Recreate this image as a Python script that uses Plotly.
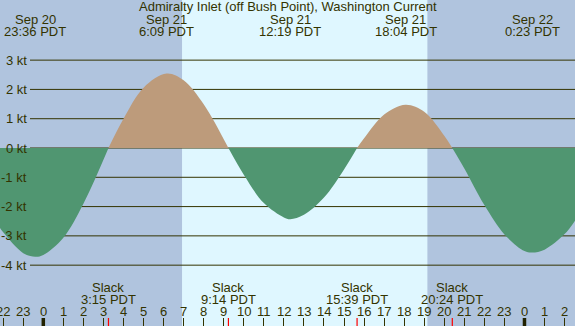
import plotly.graph_objects as go

# ---- data (hours relative to Sep 21 00:00 PDT) ----
times = [-2.16, -2.0, -1.0, -0.4, 0.0, 1.0, 2.0, 3.0, 3.25, 4.0, 5.0, 6.15, 7.0, 8.0, 9.0, 9.233,
         10.0, 11.0, 12.0, 12.317, 13.0, 14.0, 15.0, 15.65, 16.0, 17.0, 18.067, 19.0, 20.0, 20.4,
         21.0, 22.0, 23.0, 24.0, 24.383, 25.0, 26.0, 26.52]
speeds = [-2.73, -2.88, -3.59, -3.71, -3.65, -3.06, -1.90, -0.40, 0.0, 1.00, 2.06, 2.54, 2.31, 1.49, 0.30, 0.0,
          -0.91, -1.88, -2.37, -2.43, -2.28, -1.69, -0.73, 0.0, 0.33, 1.14, 1.48, 1.24, 0.42, 0.0,
          -0.70, -1.95, -2.95, -3.52, -3.57, -3.47, -2.94, -2.48]

event_times = [-0.4, 6.15, 12.317, 18.067, 24.383]
event_dates = ["Sep 20", "Sep 21", "Sep 21", "Sep 21", "Sep 22"]
event_clock = ["23:36 PDT", "6:09 PDT", "12:19 PDT", "18:04 PDT", "0:23 PDT"]

slack_times = [3.25, 9.233, 15.65, 20.4]
slack_clock = ["3:15 PDT", "9:14 PDT", "15:39 PDT", "20:24 PDT"]

hour_vals = list(range(-2, 27))
hour_labels = ["22", "23", "0", "1", "2", "3", "4", "5", "6", "7", "8", "9", "10", "11", "12",
               "13", "14", "15", "16", "17", "18", "19", "20", "21", "22", "23", "0", "1", "2"]
midnights = [0, 24]

kt_vals = [3, 2, 1, 0, -1, -2, -3, -4]
kt_labels = ["3 kt", "2 kt", "1 kt", "0 kt", "-1 kt", "-2 kt", "-3 kt", "-4 kt"]

sunrise, sunset = 6.92, 19.17
title = "Admiralty Inlet (off Bush Point), Washington Current"

# ---- style ----
W, H = 575, 326
XR = [-2.16, 26.52]
YR = [-6.077, 5.053]
NIGHT = "#b0c4de"
DAY = "#dff7ff"
FLOOD = "#bd9b7b"
EBB = "#509671"
TXT = "#333300"
FONT = "Liberation Sans, Arial, sans-serif"
FS = 13


def py(px):
    return 1 - px / H


fig = go.Figure()

# split curve into flood / ebb segments at slack points
segs, cur = [], [(times[0], speeds[0])]
for t, v in zip(times[1:], speeds[1:]):
    cur.append((t, v))
    if v == 0:
        segs.append(cur)
        cur = [(t, v)]
if len(cur) > 1:
    segs.append(cur)

for seg in segs:
    xs = [p[0] for p in seg]
    ys = [p[1] for p in seg]
    col = FLOOD if sum(ys) > 0 else EBB
    fig.add_trace(go.Scatter(x=xs, y=ys, mode="lines", line=dict(width=0, shape="spline", color=col),
                             fill="tozeroy", fillcolor=col, hoverinfo="skip", showlegend=False))

shapes = []
shapes.append(dict(type="rect", xref="x", yref="paper", x0=XR[0], x1=sunrise, y0=0, y1=1,
                   fillcolor=NIGHT, line=dict(width=0), layer="below"))
shapes.append(dict(type="rect", xref="x", yref="paper", x0=sunrise, x1=sunset, y0=0, y1=1,
                   fillcolor=DAY, line=dict(width=0), layer="below"))
shapes.append(dict(type="rect", xref="x", yref="paper", x0=sunset, x1=XR[1], y0=0, y1=1,
                   fillcolor=NIGHT, line=dict(width=0), layer="below"))
for k in kt_vals:
    shapes.append(dict(type="line", xref="paper", yref="y", x0=30 / W, x1=1, y0=k, y1=k,
                       line=dict(color=TXT, width=1), layer="below"))
for m in midnights:
    shapes.append(dict(type="line", xref="x", yref="paper", x0=m, x1=m, y0=0, y1=8 / H,
                       line=dict(color="#222200", width=3.5)))
for s in slack_times:
    shapes.append(dict(type="line", xref="x", yref="paper", x0=s, x1=s, y0=0, y1=8 / H,
                       line=dict(color="#ff0000", width=1.2)))

ann = []
fnt = dict(family=FONT, size=FS, color=TXT)
ann.append(dict(text=title, x=0.5, y=py(6.8), xref="paper", yref="paper", showarrow=False,
                xanchor="center", yanchor="middle", font=fnt))
for t, d, c in zip(event_times, event_dates, event_clock):
    ann.append(dict(text=d, x=t, y=py(19.7), xref="x", yref="paper", showarrow=False,
                    xanchor="center", yanchor="middle", font=fnt))
    ann.append(dict(text=c, x=t, y=py(31.7), xref="x", yref="paper", showarrow=False,
                    xanchor="center", yanchor="middle", font=fnt))
for t, c in zip(slack_times, slack_clock):
    ann.append(dict(text="Slack", x=t, y=py(287.3), xref="x", yref="paper", showarrow=False,
                    xanchor="center", yanchor="middle", font=fnt))
    ann.append(dict(text=c, x=t, y=py(299.7), xref="x", yref="paper", showarrow=False,
                    xanchor="center", yanchor="middle", font=fnt))
for h, lab in zip(hour_vals, hour_labels):
    ann.append(dict(text=lab, x=h, y=py(311.7), xref="x", yref="paper", showarrow=False,
                    xanchor="center", yanchor="middle", font=fnt))
for k, lab in zip(kt_vals, kt_labels):
    ann.append(dict(text=lab, x=28.5 / W, y=k, xref="paper", yref="y", showarrow=False,
                    xanchor="right", yanchor="middle", font=fnt))

fig.update_layout(
    width=W, height=H, autosize=False,
    margin=dict(l=0, r=0, t=0, b=0, pad=0),
    paper_bgcolor=NIGHT, plot_bgcolor=NIGHT,
    shapes=shapes, annotations=ann, showlegend=False,
    xaxis=dict(range=XR, showgrid=False, zeroline=False, showline=False, showticklabels=False,
               ticks="inside", ticklen=8, tickwidth=1, tickcolor=TXT,
               tickmode="array", tickvals=hour_vals, fixedrange=True),
    yaxis=dict(range=YR, showgrid=False, zeroline=False, showline=False, showticklabels=False,
               ticks="", fixedrange=True),
)

fig.write_html("out.html", config={"displayModeBar": False},
               post_script="document.body.style.margin='0';document.body.style.padding='0';"
                           "document.body.style.overflow='hidden';")
